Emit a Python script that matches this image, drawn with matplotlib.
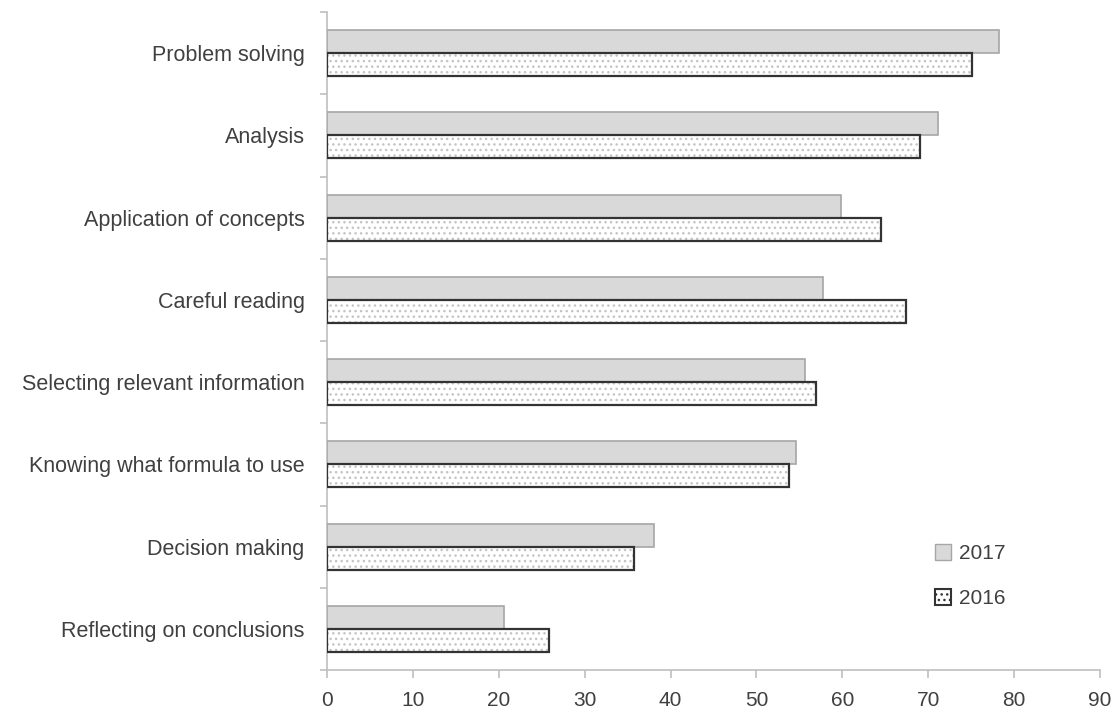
import numpy as np
import matplotlib
matplotlib.use('Agg')
import matplotlib.pyplot as plt
from matplotlib.patches import Patch

categories = ['Problem solving', 'Analysis', 'Application of concepts', 'Careful reading',
              'Selecting relevant information', 'Knowing what formula to use',
              'Decision making', 'Reflecting on conclusions']
v2017 = [78.3, 71.1, 59.8, 57.8, 55.6, 54.6, 38.1, 20.6]
v2016 = [75.1, 69.1, 64.5, 67.4, 56.9, 53.8, 35.7, 25.8]
xticks = [0, 10, 20, 30, 40, 50, 60, 70, 80, 90]

plt.rcParams['font.family'] = ['Liberation Sans', 'DejaVu Sans']
plt.rcParams['hatch.linewidth'] = 1.0

fig = plt.figure(figsize=(11.19, 7.15), dpi=100)
ax = fig.add_axes([0.2922, 0.0629, 0.6908, 0.9203])

n = len(categories)
pos = np.arange(n)
h = 0.28
grey = '#d9d9d9'
txt = '#404040'

ax.barh(pos - h/2, v2017, height=h, color=grey, edgecolor='#a6a6a6', linewidth=1.2, zorder=3)
# dotted fill for 2016, then dark outline on top
ax.barh(pos + h/2, v2016, height=h, color='white', edgecolor='#c4c4c4', hatch='...',
        linewidth=0, zorder=3)
ax.barh(pos + h/2, v2016, height=h, color='none', edgecolor='#333333', linewidth=1.6, zorder=4)

ax.set_ylim(n - 0.5, -0.5)
ax.set_xlim(0, 90)
ax.set_xticks(xticks)
ax.set_xticklabels([str(t) for t in xticks], fontsize=15, color=txt)

ax.set_yticks(pos)
ax.set_yticklabels(categories, fontsize=15.5, color=txt)
ax.tick_params(axis='y', length=0, pad=16)
ax.set_yticks(np.arange(n + 1) - 0.5, minor=True)
ax.tick_params(axis='y', which='minor', length=5, color='#bfbfbf', width=1.2)
ax.tick_params(axis='x', length=6, color='#bfbfbf', width=1.2, pad=9)

for s in ['top', 'right']:
    ax.spines[s].set_visible(False)
for s in ['left', 'bottom']:
    ax.spines[s].set_color('#bfbfbf')
    ax.spines[s].set_linewidth(1.2)

handles = [Patch(facecolor=grey, edgecolor='#a6a6a6', label='2017'),
           Patch(facecolor='white', edgecolor='#333333', hatch='...', linewidth=1.5, label='2016')]
leg = ax.legend(handles=handles, loc='upper left', bbox_to_anchor=(0.762, 0.22), frameon=False,
                fontsize=15, handlelength=0.8, handleheight=0.8, handletextpad=0.35,
                labelspacing=1.25)
for t in leg.get_texts():
    t.set_color(txt)

fig.savefig('out.png', dpi=100)
